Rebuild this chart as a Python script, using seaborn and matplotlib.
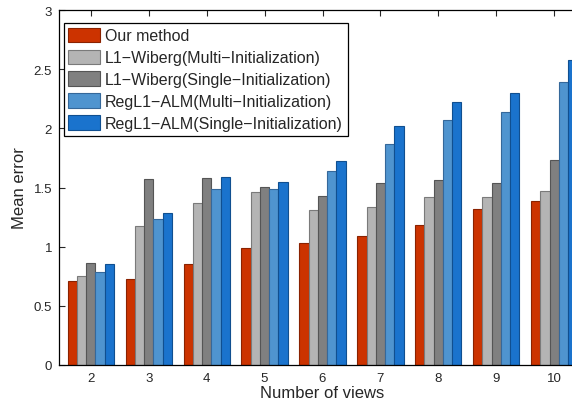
import numpy as np
import pandas as pd
import matplotlib
matplotlib.use("Agg")
import matplotlib.pyplot as plt
import seaborn as sns

# ── Data ────────────────────────────────────────────────────────────────────
views = ["2", "3", "4", "5", "6", "7", "8", "9", "10"]
methods = [
    "Our method",
    "L1\u2212Wiberg(Multi\u2212Initialization)",
    "L1\u2212Wiberg(Single\u2212Initialization)",
    "RegL1\u2212ALM(Multi\u2212Initialization)",
    "RegL1\u2212ALM(Single\u2212Initialization)",
]
our_method = [0.71, 0.73, 0.85, 0.985, 1.03, 1.09, 1.18, 1.32, 1.39]
wiberg_multi = [0.75, 1.175, 1.37, 1.465, 1.31, 1.335, 1.42, 1.42, 1.47]
wiberg_single = [0.86, 1.57, 1.58, 1.505, 1.43, 1.54, 1.565, 1.535, 1.735]
alm_multi = [0.79, 1.23, 1.49, 1.49, 1.64, 1.865, 2.07, 2.14, 2.39]
alm_single = [0.85, 1.285, 1.59, 1.55, 1.72, 2.02, 2.22, 2.30, 2.58]

colors = ["#cc3300", "#b4b4b4", "#808080", "#4f94cf", "#1a73cd"]
edges = ["#8a2200", "#7a7a7a", "#555555", "#35689a", "#104f90"]

df = pd.DataFrame({
    "views": np.tile(views, len(methods)),
    "method": np.repeat(methods, len(views)),
    "error": our_method + wiberg_multi + wiberg_single + alm_multi + alm_single,
})

# ── Plot ────────────────────────────────────────────────────────────────────
sns.set_style("white")
plt.rcParams["font.family"] = ["Liberation Sans", "DejaVu Sans"]

fig = plt.figure(figsize=(5.72, 4.06), dpi=100)
ax = fig.add_axes([59 / 572, 40 / 406, (586 - 59) / 572, 355 / 406])

sns.barplot(data=df, x="views", y="error", hue="method", palette=colors,
            width=0.8, saturation=1, ax=ax)

# darker outline per series
for cont, ec in zip(ax.containers, edges):
    for bar in cont:
        bar.set_edgecolor(ec)
        bar.set_linewidth(0.8)

ax.set_xlim(-0.55, 8.55)
ax.set_ylim(0, 3)
ax.set_yticks(np.arange(0, 3.01, 0.5))
ax.set_yticklabels(["0", "0.5", "1", "1.5", "2", "2.5", "3"])
ax.tick_params(direction="in", length=4, width=0.8, labelsize=9.5,
               top=True, bottom=True, left=True, right=False, pad=5)
ax.set_xlabel("Number of views", fontsize=12, labelpad=1)
ax.set_ylabel("Mean error", fontsize=12, labelpad=5)

for side in ["top", "bottom", "left", "right"]:
    ax.spines[side].set_visible(True)
    ax.spines[side].set_color("black")
    ax.spines[side].set_linewidth(0.9)

leg = ax.legend(loc="upper left", bbox_to_anchor=(0.0095, 0.963),
                fontsize=11.5, frameon=True, fancybox=False,
                edgecolor="black", framealpha=1, borderpad=0.28,
                handlelength=2.0, handleheight=1.05, handletextpad=0.3,
                labelspacing=0.38, borderaxespad=0)
leg.get_frame().set_linewidth(0.9)
for patch, ec in zip(leg.get_patches(), edges):
    patch.set_edgecolor(ec)
    patch.set_linewidth(0.8)

fig.savefig("out.png", dpi=100)
